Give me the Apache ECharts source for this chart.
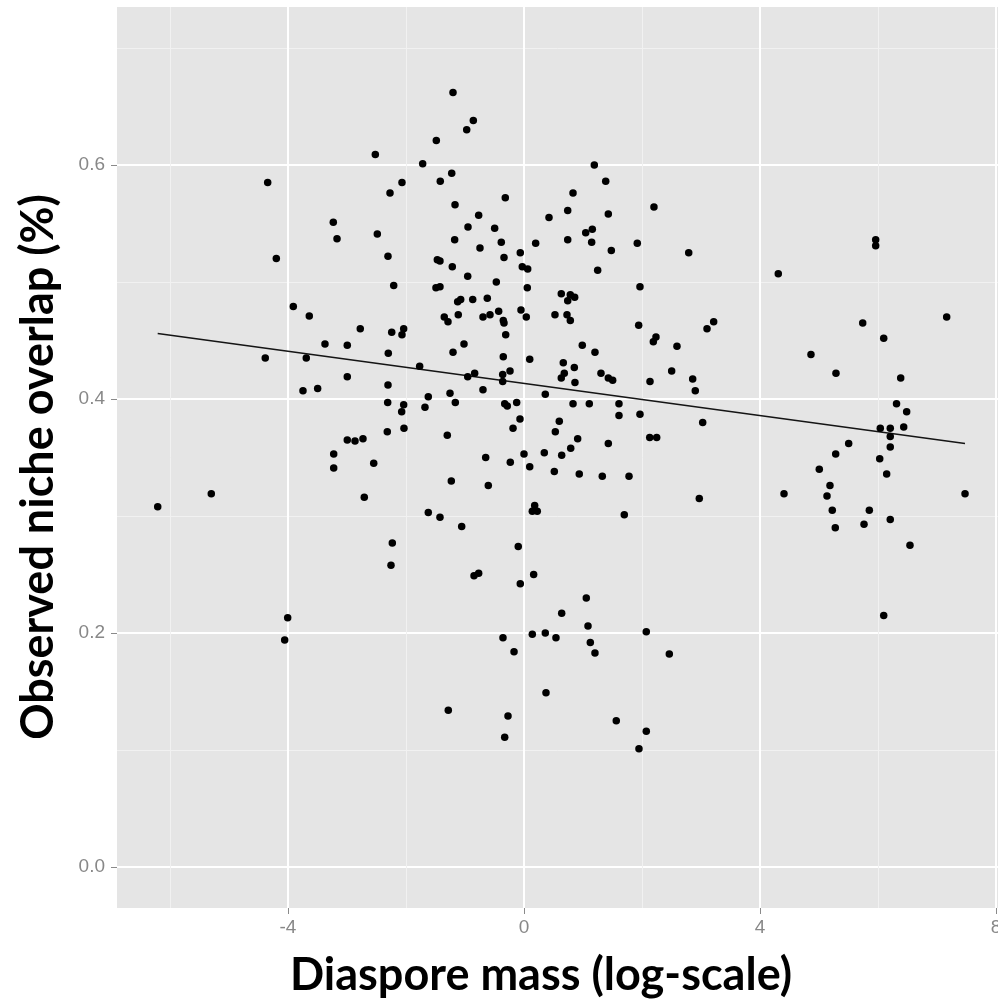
<!DOCTYPE html>
<html>
<head>
<meta charset="utf-8">
<script src="https://cdn.jsdelivr.net/npm/echarts@6/dist/echarts.min.js"></script>
<style>
  html, body { margin: 0; padding: 0; background: #ffffff; }
  #chart { width: 998px; height: 1001px; }
</style>
</head>
<body>
<div id="chart"></div>
<script>
// Diaspore mass (log-scale)
const massLog = [
  -2.520, -1.717, -4.344, -2.068, -2.271, -3.232, -2.486, -3.169, -4.198, -2.305,
  -2.208, -3.910, -3.639, -2.775, -2.242, -2.039, -2.068, -3.373, -2.995, -2.300,
  -4.385, -3.690, -1.768, -2.995, -2.305, -3.746, -3.497, -1.622, -2.310, -2.039,
  -1.678, -2.073, -2.317, -2.034, -2.995, -2.864, -2.729, -3.225, -3.225, -2.547,
  -5.300, -6.208, -2.707, -1.622, -2.232, -2.254, -4.005, -4.056,
  -1.203, -0.859, -0.971, -1.486, -1.225, -1.419, 1.192, 1.385, 0.831, -0.317,
  -1.169, 2.203, 0.741, 1.429, 0.424, -0.768, -0.949, -0.497, 1.158, 1.046,
  0.741, -1.175, -0.385, 1.147, 0.198, 1.920, -0.746, 1.480, -0.063, 2.792,
  -0.339, -1.469, -1.424, -1.215, -0.029, 0.063, 1.249, -0.954, -0.469, -1.492,
  -1.424, 0.056, 1.966, 0.632, 0.785, 0.859, 0.741, -1.124, -1.073, -0.869,
  -0.622, -0.429, -0.051, -1.351, -1.288, -1.114, -0.695, -0.576, -0.351, -0.339,
  0.039, 0.525, 0.729, 0.785, 1.944, 3.102, 3.215, -0.310, -1.017, -1.203,
  0.988, 2.237, 2.192, 2.593, 1.203, -0.351, 0.097, 0.666, 0.853, -0.836,
  -0.954, -0.361, -0.237, -0.361, 0.683, 0.632, 1.305, 1.429, 1.503, 0.864,
  2.136, 2.503, 2.859, 2.903, -0.695, -1.254, -1.164, -0.327, -0.283, -0.124,
  0.361, 0.831, 1.107, 1.610,
  1.610, 1.966, 3.029, -0.068, -0.186, 0.598, 0.531, -1.300, 0.910, 1.429,
  2.131, 2.249, 0.792, -0.649, 0.000, 0.344, 0.639, -0.232, 0.097, 0.514,
  0.937, 1.327, 1.780, -1.232, -0.605, 2.971, -1.424, 0.181, 0.141, 0.225,
  1.700, -1.056, -0.097, -0.847, -0.768, 0.164, -0.063, 1.056, 0.639, 1.085,
  2.073, -0.356, 0.141, 0.361, 0.542, 1.124, -0.169, 1.203, 2.463, 0.373,
  -1.283, -0.271, 1.564, 2.073, -0.327, 1.949,
  5.961, 5.961, 4.310, 7.164, 5.741, 6.097, 4.864, 5.288, 6.385, 6.314,
  6.486, 6.436, 6.039, 6.208, 6.208, 6.208, 5.503, 5.283, 6.029, 5.005,
  6.147, 5.186, 4.407, 5.136, 7.475, 5.225, 5.853, 5.763, 5.276, 6.208,
  6.542, 6.097
];

// Observed niche overlap
const nicheOverlap = [
  0.609, 0.601, 0.585, 0.585, 0.576, 0.551, 0.541, 0.537, 0.520, 0.522,
  0.497, 0.479, 0.471, 0.460, 0.457, 0.460, 0.455, 0.447, 0.446, 0.439,
  0.435, 0.435, 0.428, 0.419, 0.412, 0.407, 0.409, 0.402, 0.397, 0.395,
  0.393, 0.389, 0.372, 0.375, 0.365, 0.364, 0.366, 0.353, 0.341, 0.345,
  0.319, 0.308, 0.316, 0.303, 0.277, 0.258, 0.213, 0.194,
  0.662, 0.638, 0.630, 0.621, 0.593, 0.586, 0.600, 0.586, 0.576, 0.572,
  0.566, 0.564, 0.561, 0.558, 0.555, 0.557, 0.547, 0.546, 0.545, 0.542,
  0.536, 0.536, 0.534, 0.534, 0.533, 0.533, 0.529, 0.527, 0.525, 0.525,
  0.521, 0.519, 0.518, 0.513, 0.513, 0.511, 0.510, 0.505, 0.500, 0.495,
  0.496, 0.495, 0.496, 0.490, 0.489, 0.487, 0.484, 0.483, 0.485, 0.485,
  0.486, 0.475, 0.476, 0.470, 0.466, 0.472, 0.470, 0.472, 0.467, 0.465,
  0.470, 0.472, 0.472, 0.467, 0.463, 0.460, 0.466, 0.455, 0.447, 0.440,
  0.446, 0.453, 0.449, 0.445, 0.440, 0.436, 0.434, 0.431, 0.427, 0.422,
  0.419, 0.421, 0.424, 0.415, 0.422, 0.418, 0.422, 0.418, 0.416, 0.414,
  0.415, 0.424, 0.417, 0.407, 0.408, 0.405, 0.397, 0.396, 0.394, 0.397,
  0.404, 0.396, 0.396, 0.396,
  0.386, 0.387, 0.380, 0.383, 0.375, 0.381, 0.372, 0.369, 0.366, 0.362,
  0.367, 0.367, 0.358, 0.350, 0.353, 0.354, 0.352, 0.346, 0.342, 0.338,
  0.336, 0.334, 0.334, 0.330, 0.326, 0.315, 0.299, 0.309, 0.304, 0.304,
  0.301, 0.291, 0.274, 0.249, 0.251, 0.250, 0.242, 0.230, 0.217, 0.206,
  0.201, 0.196, 0.199, 0.200, 0.196, 0.192, 0.184, 0.183, 0.182, 0.149,
  0.134, 0.129, 0.125, 0.116, 0.111, 0.101,
  0.536, 0.531, 0.507, 0.470, 0.465, 0.452, 0.438, 0.422, 0.418, 0.396,
  0.389, 0.376, 0.375, 0.375, 0.368, 0.359, 0.362, 0.353, 0.349, 0.340,
  0.336, 0.326, 0.319, 0.317, 0.319, 0.305, 0.305, 0.293, 0.290, 0.297,
  0.275, 0.215
];

// Linear fit line (end points)
const fitX = [-6.208, 7.475];
const fitY = [0.456, 0.362];

// Tick labels
const xTickValues = [-4, 0, 4, 8];
const yTickValues = [0, 0.2, 0.4, 0.6];

const xTitle = 'Diaspore mass (log-scale)';
const yTitle = 'Observed niche overlap (%)';

const points = massLog.map((x, i) => [x, nicheOverlap[i]]);
const fitLine = fitX.map((x, i) => [x, fitY[i]]);

const chart = echarts.init(document.getElementById('chart'), null, { renderer: 'canvas' });

const tickLabelColor = '#888888';

chart.setOption({
  animation: false,
  backgroundColor: '#ffffff',
  grid: {
    left: 117, top: 7, right: 0, height: 901,
    outerBoundsMode: 'none',
    containLabel: false,
    show: true, backgroundColor: '#e5e5e5', borderWidth: 0
  },
  xAxis: {
    type: 'value',
    position: 'bottom',
    min: -6.898, max: 8.034,
    minInterval: 4, maxInterval: 4,
    axisLine: { show: false, onZero: false },
    axisTick: { show: true, customValues: xTickValues, length: 6, lineStyle: { color: '#8a8a8a', width: 1 } },
    axisLabel: {
      customValues: xTickValues, color: tickLabelColor, fontSize: 19,
      fontFamily: 'Liberation Sans', margin: 10,
      formatter: v => String(v)
    },
    splitLine: { show: true, lineStyle: { color: '#ffffff', width: 2 } },
    minorTick: { show: false, splitNumber: 2 },
    minorSplitLine: { show: true, lineStyle: { color: '#f1f1f1', width: 1 } }
  },
  yAxis: {
    type: 'value',
    position: 'left',
    min: -0.035, max: 0.735,
    minInterval: 0.2, maxInterval: 0.2,
    axisLine: { show: false, onZero: false },
    axisTick: { show: true, customValues: yTickValues, length: 6, lineStyle: { color: '#8a8a8a', width: 1 } },
    axisLabel: {
      customValues: yTickValues, color: tickLabelColor, fontSize: 19,
      fontFamily: 'Liberation Sans', margin: 12,
      formatter: v => v.toFixed(1)
    },
    splitLine: { show: true, lineStyle: { color: '#ffffff', width: 2 } },
    minorTick: { show: false, splitNumber: 2 },
    minorSplitLine: { show: true, lineStyle: { color: '#f1f1f1', width: 1 } }
  },
  series: [
    {
      type: 'line',
      data: fitLine,
      showSymbol: false,
      symbol: 'none',
      lineStyle: { color: '#151515', width: 1.6 },
      z: 2,
      silent: true
    },
    {
      type: 'scatter',
      data: points,
      symbol: 'circle',
      symbolSize: 7.5,
      itemStyle: { color: '#000000', opacity: 1 },
      z: 3
    }
  ],
  graphic: [
    {
      type: 'text',
      x: 541, y: 975,
      style: {
        text: xTitle, fill: '#000000',
        fontFamily: 'Lato', fontWeight: 'bold', fontSize: 45,
        align: 'center', verticalAlign: 'middle'
      }
    },
    {
      type: 'text',
      x: 38, y: 467,
      rotation: Math.PI / 2,
      style: {
        text: yTitle, fill: '#000000',
        fontFamily: 'Lato', fontWeight: 'bold', fontSize: 45,
        align: 'center', verticalAlign: 'middle'
      }
    }
  ]
});
</script>
</body>
</html>
